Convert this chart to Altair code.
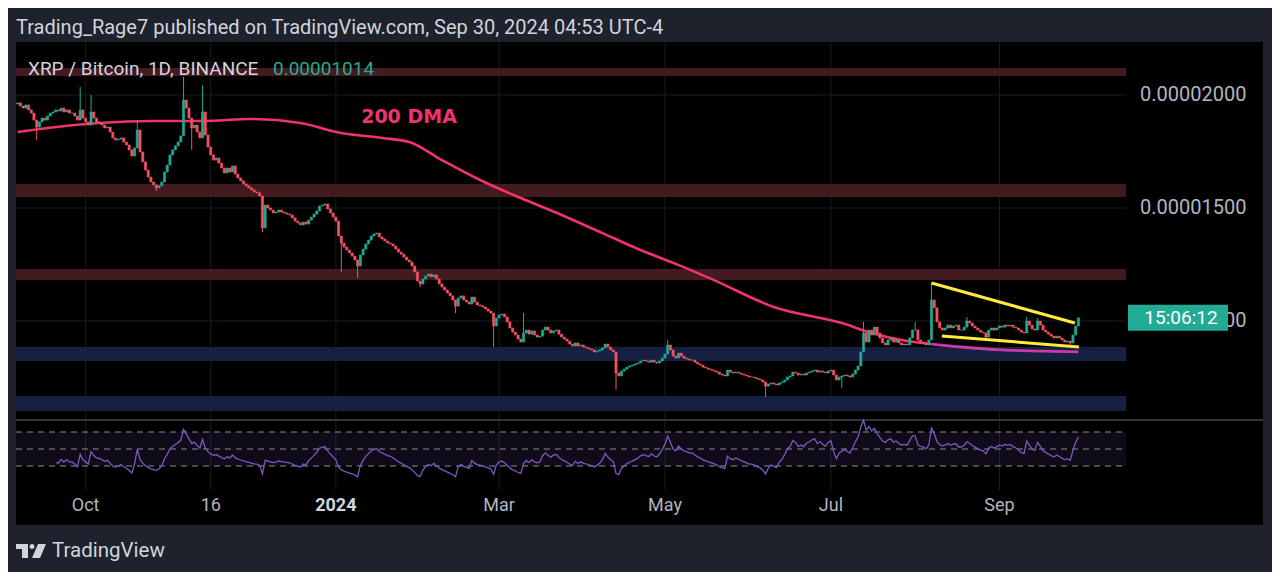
import altair as alt
import pandas as pd
import numpy as np

# ---------------- data (prices in satoshi = 1e-8 BTC) ----------------
START = "2023-09-06"
first_open = 1960
closes = [
    1965, 1951, 1942, 1956, 1934, 1920, 1889, 1858, 1881, 1898,
    1889, 1907, 1920, 1925, 1934, 1929, 1942, 1925, 1934, 1920,
    1920, 1907, 1889, 1934, 1898, 1881, 1867, 1925, 1898, 1881,
    1876, 1867, 1854, 1858, 1836, 1810, 1801, 1805, 1810, 1792,
    1779, 1757, 1730, 1766, 1845, 1748, 1704, 1668, 1637, 1615,
    1602, 1589, 1598, 1615, 1659, 1690, 1735, 1757, 1775, 1792,
    1819, 1978, 1942, 1898, 1854, 1867, 1836, 1810, 1925, 1823,
    1770, 1735, 1712, 1721, 1699, 1677, 1655, 1677, 1659, 1686,
    1650, 1633, 1620, 1607, 1598, 1589, 1580, 1571, 1567, 1553,
    1412, 1513, 1500, 1491, 1478, 1482, 1491, 1482, 1478, 1473,
    1469, 1456, 1442, 1434, 1425, 1438, 1429, 1447, 1460, 1473,
    1487, 1509, 1513, 1518, 1496, 1478, 1460, 1442, 1376, 1345,
    1327, 1314, 1301, 1287, 1270, 1243, 1292, 1318, 1341, 1358,
    1376, 1385, 1389, 1372, 1363, 1354, 1345, 1341, 1332, 1319,
    1305, 1296, 1283, 1270, 1261, 1243, 1217, 1177, 1164, 1186,
    1199, 1208, 1195, 1204, 1186, 1164, 1150, 1137, 1124, 1111,
    1093, 1066, 1102, 1111, 1093, 1084, 1075, 1106, 1084, 1071,
    1067, 1062, 1053, 1044, 1035, 978, 1013, 1027, 1031, 1018,
    996, 969, 951, 938, 920, 907, 947, 960, 942, 956,
    938, 929, 933, 960, 973, 960, 947, 956, 960, 942,
    929, 920, 911, 898, 889, 903, 889, 894, 885, 881,
    876, 872, 863, 867, 872, 881, 898, 885, 872, 863,
    770, 757, 779, 787, 796, 801, 805, 810, 814, 823,
    827, 823, 818, 827, 818, 814, 823, 836, 854, 894,
    872, 845, 836, 858, 845, 836, 832, 827, 827, 818,
    810, 805, 796, 792, 787, 783, 779, 774, 765, 761,
    757, 783, 774, 770, 774, 770, 765, 761, 757, 752,
    752, 748, 743, 739, 730, 712, 721, 726, 721, 717,
    726, 730, 739, 752, 757, 774, 770, 761, 765, 761,
    770, 774, 779, 783, 774, 779, 774, 770, 779, 783,
    761, 739, 752, 757, 761, 757, 752, 765, 783, 801,
    863, 947, 907, 960, 938, 973, 947, 925, 903, 894,
    916, 925, 907, 916, 903, 894, 898, 894, 925, 960,
    960, 916, 907, 903, 894, 916, 1093, 1058, 996, 969,
    960, 969, 982, 969, 978, 982, 960, 960, 973, 1000,
    991, 978, 969, 960, 951, 947, 929, 960, 969, 960,
    969, 978, 973, 982, 978, 982, 973, 969, 960, 951,
    947, 1000, 982, 965, 960, 1000, 982, 960, 951, 942,
    933, 925, 933, 925, 916, 907, 911, 903, 938, 978, 1014,
]
wick_high_days = [23, 27, 44, 61, 68, 186, 239, 311, 330, 336, 349, 371, 375]
wick_high_vals = [2035, 2000, 1889, 2080, 2044, 1035, 916, 996, 996, 1168, 1018, 1018, 1013]
wick_low_days = [7, 51, 64, 90, 119, 125, 148, 161, 175, 220, 275, 303, 356, 387]
wick_low_vals = [1801, 1575, 1757, 1394, 1217, 1190, 1150, 1035, 885, 695, 664, 704, 916, 894]

dma_days = [0, 11, 30, 49, 68, 86, 104, 119, 134, 144, 156, 170, 185, 200, 215, 229,
            244, 256, 278, 303, 314, 325, 336]
dma_vals = [1836, 1854, 1876, 1885, 1885, 1894, 1876, 1832, 1810, 1792, 1712, 1624,
            1544, 1469, 1389, 1314, 1243, 1181, 1062, 991, 947, 916, 898]
dma2_days = [336, 347, 362, 377, 390]
dma2_vals = [898, 885, 872, 867, 863]

zone_top = [2119, 1606, 1230, 885, 668]
zone_bottom = [2084, 1549, 1181, 823, 602]
zone_kind = ["resistance", "resistance", "resistance", "support", "support"]

wedge_upper_days = [336, 388.7]
wedge_upper_vals = [1168, 991]
wedge_lower_days = [339.8, 390.2]
wedge_lower_vals = [934, 885]

price_ticks = [2000, 1500, 1000]
xlabel_dates = ["2023-10-01", "2023-11-16", "2024-01-01", "2024-03-01",
                "2024-05-01", "2024-07-01", "2024-09-01"]
xlabel_text = ["Oct", "16", "2024", "Mar", "May", "Jul", "Sep"]
xlabel_bold = [False, False, True, False, False, False, False]
rsi_levels = [70, 50, 30]

header_text = ["Trading_Rage7 published on TradingView.com, Sep 30, 2024 04:53 UTC-4"]
symbol_text = ["XRP / Bitcoin, 1D, BINANCE"]
last_text = ["0.00001014"]
dma_label = ["200 DMA"]
timer_text = ["15:06:12"]
footer_text = ["TradingView"]

# ---------------- frames ----------------
n = len(closes)
days = np.arange(n)
close = np.array(closes, dtype=float)
open_ = np.r_[first_open, close[:-1]]
high = np.maximum(open_, close)
low = np.minimum(open_, close)
for d, v in zip(wick_high_days, wick_high_vals):
    high[d] = max(high[d], v)
for d, v in zip(wick_low_days, wick_low_vals):
    low[d] = min(low[d], v)
candles = pd.DataFrame({
    "day": days, "x0": days - 0.4, "x1": days + 0.4,
    "open": open_, "close": close, "high": high, "low": low,
    "dir": np.where(close >= open_, "up", "down"),
})

# RSI(14), Wilder smoothing, from closes
delta = pd.Series(close).diff()
gain = delta.clip(lower=0)
loss = -delta.clip(upper=0)
ag = gain.ewm(alpha=1 / 14, adjust=False, min_periods=14).mean()
al = loss.ewm(alpha=1 / 14, adjust=False, min_periods=14).mean()
rsi = 100 - 100 / (1 + ag / al)
rsi_df = pd.DataFrame({"day": days, "rsi": rsi}).dropna()

start = pd.Timestamp(START)
xl = pd.DataFrame({
    "day": [(pd.Timestamp(d) - start).days for d in xlabel_dates],
    "label": xlabel_text, "bold": xlabel_bold,
})
pt = pd.DataFrame({"v": price_ticks, "label": [f"{v * 1e-8:.8f}" for v in price_ticks]})
zones = pd.DataFrame({"top": zone_top, "bottom": zone_bottom, "kind": zone_kind})
dma = pd.DataFrame({"day": dma_days, "v": dma_vals})
dma2 = pd.DataFrame({"day": dma2_days, "v": dma2_vals})
wu = pd.DataFrame({"day": wedge_upper_days, "v": wedge_upper_vals})
wl = pd.DataFrame({"day": wedge_lower_days, "v": wedge_lower_vals})
lvl = pd.DataFrame({"lvl": rsi_levels})
band = pd.DataFrame({"hi": [max(rsi_levels)], "lo": [min(rsi_levels)]})
last = pd.DataFrame({"v": [closes[-1]], "t": timer_text})

# ---------------- scales ----------------
X = alt.Scale(domain=[-0.6, 407.5], range=[0, 1110], nice=False, zero=False)
PY = alt.Scale(domain=[562, 2234.5], range=[378, 0], nice=False, zero=False)
RY = alt.Scale(domain=[0, 100], range=[449.5, 364.5], nice=False, zero=False)
CS = alt.Scale(domain=["up", "down"], range=["#22ab94", "#f7525f"])

GREEN = "#22ab94"
TXT = "#d1d4dc"
AX = "#b2b5be"
FONT = "Roboto"

layers = []

# grid
layers.append(alt.Chart(xl).mark_rule(color="#191c23", strokeWidth=1).encode(
    x=alt.X("day:Q", scale=X, axis=None), y=alt.value(0), y2=alt.value(448)))
layers.append(alt.Chart(pt).mark_rule(color="#191c23", strokeWidth=1).encode(
    y=alt.Y("v:Q", scale=PY, axis=None), x=alt.value(0), x2=alt.value(1110)))

# zones
layers.append(alt.Chart(zones).mark_rect().encode(
    x=alt.value(0), x2=alt.value(1110),
    y=alt.Y("top:Q", scale=PY, axis=None), y2="bottom:Q",
    color=alt.Color("kind:N", scale=alt.Scale(domain=["resistance", "support"],
                                              range=["#431a20", "#152042"]), legend=None)))

# separator between panes
layers.append(alt.Chart(band).mark_rule(color="#30343d", strokeWidth=2).encode(
    x=alt.value(0), x2=alt.value(1247), y=alt.value(378)))

# RSI pane
layers.append(alt.Chart(band).mark_rect(color="#7e57c2", opacity=0.12).encode(
    x=alt.value(0), x2=alt.value(1110),
    y=alt.Y("hi:Q", scale=RY, axis=None), y2="lo:Q"))
layers.append(alt.Chart(lvl).mark_rule(color="#8a8d96", strokeWidth=1, strokeDash=[6, 5]).encode(
    y=alt.Y("lvl:Q", scale=RY, axis=None), x=alt.value(0), x2=alt.value(1110)))
layers.append(alt.Chart(rsi_df).mark_line(color="#7e57c2", strokeWidth=1.3).encode(
    x=alt.X("day:Q", scale=X, axis=None), y=alt.Y("rsi:Q", scale=RY, axis=None)))

# 200 DMA
layers.append(alt.Chart(dma).mark_line(color="#f0336c", strokeWidth=2.6, interpolate="monotone").encode(
    x=alt.X("day:Q", scale=X, axis=None), y=alt.Y("v:Q", scale=PY, axis=None)))
layers.append(alt.Chart(dma2).mark_line(color="#c93ba6", strokeWidth=2.8, interpolate="monotone").encode(
    x=alt.X("day:Q", scale=X, axis=None), y=alt.Y("v:Q", scale=PY, axis=None)))

# candles
layers.append(alt.Chart(candles).mark_rule(strokeWidth=1).encode(
    x=alt.X("day:Q", scale=X, axis=None),
    y=alt.Y("low:Q", scale=PY, axis=None), y2="high:Q",
    color=alt.Color("dir:N", scale=CS, legend=None)))
layers.append(alt.Chart(candles).mark_rect(strokeWidth=0.6).encode(
    x=alt.X("x0:Q", scale=X, axis=None), x2="x1:Q",
    y=alt.Y("open:Q", scale=PY, axis=None), y2="close:Q",
    color=alt.Color("dir:N", scale=CS, legend=None),
    stroke=alt.Stroke("dir:N", scale=CS, legend=None)))

# wedge
for w in (wu, wl):
    layers.append(alt.Chart(w).mark_line(color="#ffeb3b", strokeWidth=3).encode(
        x=alt.X("day:Q", scale=X, axis=None), y=alt.Y("v:Q", scale=PY, axis=None)))

# price axis labels
layers.append(alt.Chart(pt).mark_text(align="left", baseline="middle", font=FONT,
                                      fontSize=20, color=AX).encode(
    x=alt.value(1124), y=alt.Y("v:Q", scale=PY, axis=None), text="label:N"))
# last price box
layers.append(alt.Chart(last).mark_point(shape="M-50,-13H50V13H-50Z", size=4, filled=True,
                                         opacity=1, color=GREEN, strokeWidth=0).encode(
    x=alt.value(1162), y=alt.Y("v:Q", scale=PY, axis=None)))
layers.append(alt.Chart(last).mark_text(align="center", baseline="middle", font=FONT,
                                        fontSize=19, color="#ffffff").encode(
    x=alt.value(1165), y=alt.Y("v:Q", scale=PY, axis=None), text="t:N"))

# x axis labels
layers.append(alt.Chart(xl[~xl["bold"]]).mark_text(align="center", baseline="middle", font=FONT,
                                                   fontSize=18, color=AX).encode(
    x=alt.X("day:Q", scale=X, axis=None), y=alt.value(464), text="label:N"))
layers.append(alt.Chart(xl[xl["bold"]]).mark_text(align="center", baseline="middle", font=FONT,
                                                  fontSize=18, fontWeight="bold", color=TXT).encode(
    x=alt.X("day:Q", scale=X, axis=None), y=alt.value(464), text="label:N"))

# texts
def txt(items, x, y, size, color, weight="normal", font=FONT, align="left"):
    return alt.Chart(pd.DataFrame({"t": items})).mark_text(
        align=align, baseline="middle", font=font, fontSize=size, color=color,
        fontWeight=weight).encode(x=alt.value(x), y=alt.value(y), text="t:N")

layers.append(txt(header_text, 0, -14, 20, TXT))
layers.append(txt(symbol_text, 12, 27, 19, TXT))
layers.append(txt(last_text, 257, 27, 19, GREEN))
layers.append(txt(dma_label, 393, 75, 19, "#f0336c", weight="bold", font="DejaVu Sans", align="center"))
layers.append(txt(footer_text, 36, 509, 20.5, TXT))

# TradingView logo
layers.append(alt.Chart(pd.DataFrame({"a": [0]})).mark_point(
    shape="M-15,-7H-3V7H-9V-2H-15Z M-1.5,-4.5a2.5,2.5 0 1,0 5,0a2.5,2.5 0 1,0 -5,0Z M7,-7H15L9,7H1Z",
    size=4, filled=True, opacity=1, color=TXT, strokeWidth=0).encode(
    x=alt.value(15), y=alt.value(509)))

chart = alt.layer(*layers).resolve_scale(y="independent", color="independent").properties(
    width=1247, height=483,
    padding={"left": 8, "top": 34, "right": 9, "bottom": 47},
    autosize=alt.AutoSizeParams(type="none"),
    background="#1e222d",
).configure_view(fill="#000000", strokeWidth=0)

chart.save("out.html", embed_options={"renderer": "svg", "actions": False})
